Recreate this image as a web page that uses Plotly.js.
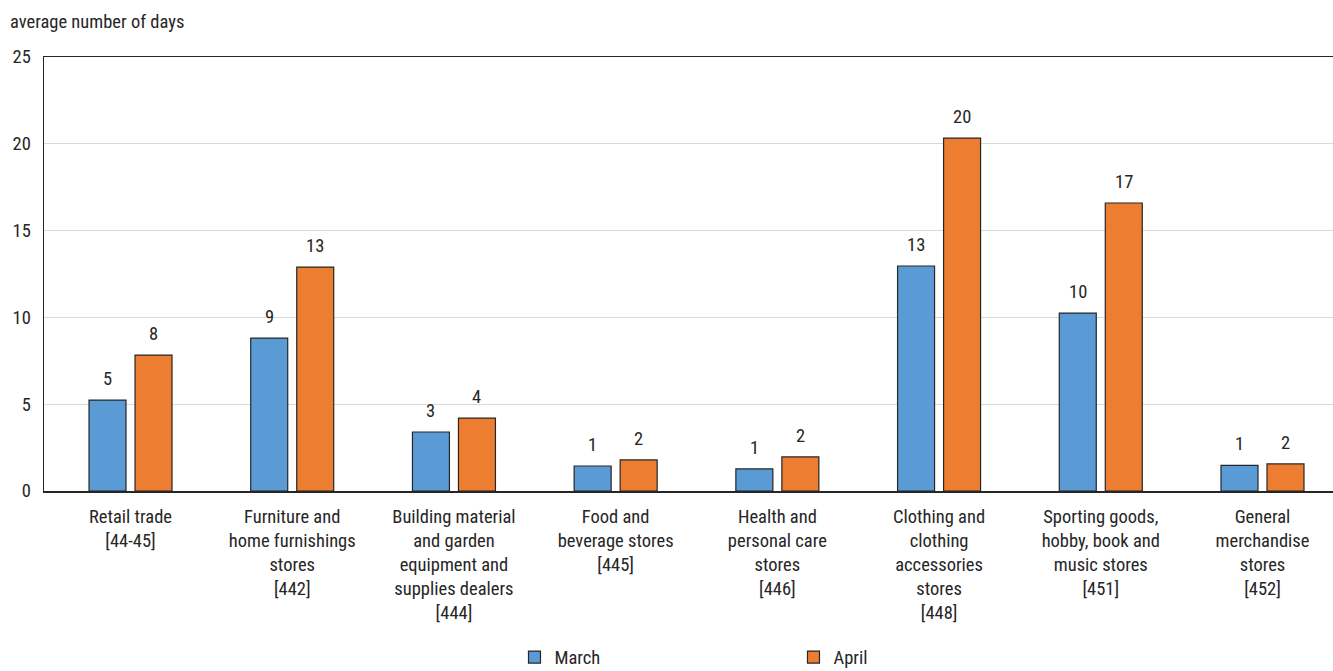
<!DOCTYPE html>
<html><head><meta charset="utf-8">
<script src="https://cdn.plot.ly/plotly-3.0.1.min.js"></script>
<style>html,body{margin:0;padding:0;background:#fff}#c{width:1333px;height:671px}</style>
</head><body><div id="c"></div>
<script>
const categories = [
  "Retail trade<br>[44-45]",
  "Furniture and<br>home furnishings<br>stores<br>[442]",
  "Building material<br>and garden<br>equipment and<br>supplies dealers<br>[444]",
  "Food and<br>beverage stores<br>[445]",
  "Health and<br>personal care<br>stores<br>[446]",
  "Clothing and<br>clothing<br>accessories<br>stores<br>[448]",
  "Sporting goods,<br>hobby, book and<br>music stores<br>[451]",
  "General<br>merchandise<br>stores<br>[452]"
];
const march = [5.24, 8.81, 3.40, 1.44, 1.27, 12.96, 10.25, 1.48];
const april = [7.83, 12.90, 4.20, 1.79, 1.96, 20.33, 16.59, 1.56];
const yTicks = [0, 5, 10, 15, 20, 25];

const FONT = "'Liberation Sans Narrow', 'Roboto Condensed', 'Liberation Sans', sans-serif";
const FS = 18.5;
const idx = categories.map((c, i) => i);
const half = 0.1423;
const ann = [];
march.forEach((v, i) => ann.push({x: i - half, y: v, xref: 'x', yref: 'y', text: String(Math.round(v)), showarrow: false, yanchor: 'bottom', yshift: 8, font: {size: FS, color: '#262626', family: FONT}}));
april.forEach((v, i) => ann.push({x: i + half, y: v, xref: 'x', yref: 'y', text: String(Math.round(v)), showarrow: false, yanchor: 'bottom', yshift: 8, font: {size: FS, color: '#262626', family: FONT}}));
ann.push({xref: 'paper', yref: 'paper', x: -0.028, y: 1.05, xanchor: 'left', yanchor: 'bottom', text: 'average number of days', showarrow: false, font: {size: FS, color: '#262626', family: FONT}});

const traces = [
  {type: 'bar', name: 'March', x: idx, y: march, marker: {color: '#5B9BD5', line: {color: '#262626', width: 1.2}}, hoverinfo: 'y'},
  {type: 'bar', name: 'April', x: idx, y: april, marker: {color: '#ED7D31', line: {color: '#262626', width: 1.2}}, hoverinfo: 'y'}
];
const layout = {
  width: 1333, height: 671,
  margin: {l: 44, r: 0, t: 57, b: 180, autoexpand: false},
  paper_bgcolor: '#fff', plot_bgcolor: '#fff',
  font: {family: FONT, size: FS, color: '#262626'},
  barmode: 'group', bargap: 0.431, bargroupgap: 0.196,
  showlegend: true,
  legend: {orientation: 'h', x: 0.365, xanchor: 'left', yref: 'container', y: 0.02, yanchor: 'middle', entrywidth: 234, entrywidthmode: 'pixels', font: {size: FS, family: FONT}, itemwidth: 30},
  xaxis: {type: 'linear', range: [-0.535, 7.436], tickvals: idx, ticktext: categories, showgrid: false, zeroline: false, showline: true, linecolor: '#262626', linewidth: 1.5, mirror: true, ticks: '', ticklabelstandoff: 8, tickfont: {size: FS, family: FONT}},
  yaxis: {range: [0, 25], tickvals: yTicks, ticktext: yTicks.map(String), showgrid: true, gridcolor: '#d9d9d9', gridwidth: 1, zeroline: false, showline: true, linecolor: '#262626', linewidth: 1.5, ticks: '', ticklabelstandoff: 8, tickfont: {size: FS, family: FONT}},
  annotations: ann
};
Plotly.newPlot('c', traces, layout, {displayModeBar: false, staticPlot: true});
</script></body></html>
